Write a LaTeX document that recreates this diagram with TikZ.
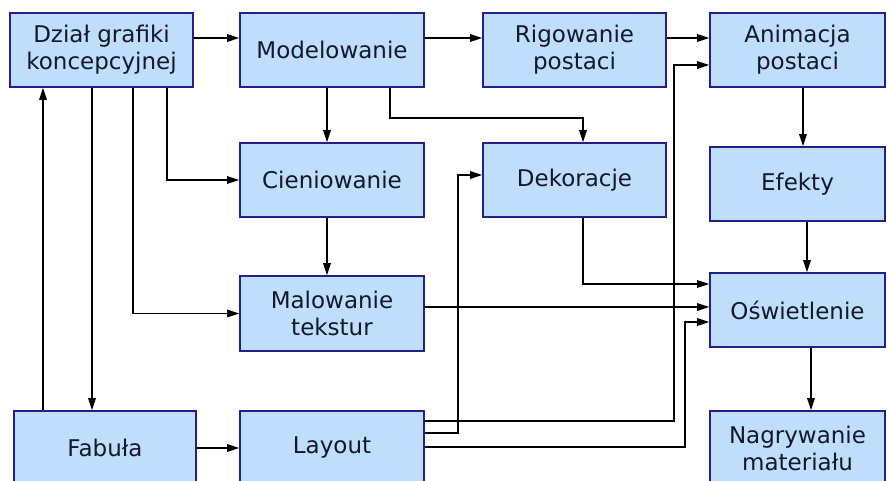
\documentclass[tikz,border=0pt]{standalone}
\usepackage{fontspec}
\setmainfont{DejaVu Sans}
\usetikzlibrary{arrows.meta}
\definecolor{boxfill}{RGB}{190,222,250}
\definecolor{boxline}{RGB}{35,30,140}
\definecolor{boxtext}{RGB}{20,24,45}
\tikzstyle{etap} = [rectangle, minimum width=184pt, minimum height=74pt, inner sep=0, align=center, text centered, draw=boxline, line width=1.6pt, fill=boxfill, text=boxtext, font=\fontsize{23}{27}\selectfont]
\tikzstyle{arrow} = [line width=1.5pt,->,>={Triangle[length=12pt,width=7.5pt]}]

\begin{document}
\begin{tikzpicture}[x=1pt,y=-1pt]%[scale=.5]
\useasboundingbox (0,0) rectangle (887,481);
% top row
\node[etap,minimum width=183pt] (dzial) at (101.5,50) {Dział grafiki\\koncepcyjnej};
\node[etap] (model) at (332,50) {Modelowanie};
\node[etap,minimum width=183pt] (rig) at (574.5,50) {Rigowanie\\postaci};
\node[etap,minimum width=175pt] (anim) at (797.5,50) {Animacja\\postaci};
% middle
\node[etap] (cien) at (332,180) {Cieniowanie};
\node[etap,minimum width=183pt] (dekor) at (574.5,180) {Dekoracje};
\node[etap,minimum width=175pt] (efekty) at (797.5,184) {Efekty};
\node[etap,minimum height=75pt] (malow) at (332,313.5) {Malowanie\\tekstur};
\node[etap,minimum width=175pt] (oswiet) at (797.5,310) {Oświetlenie};
% bottom row
\node[etap,minimum width=182pt] (fabula) at (105,448) {Fabuła};
\node[etap] (layout) at (332,448) {Layout};
\node[etap,minimum width=175pt] (nagr) at (797.5,448) {Nagrywanie\\materiału};

\draw[arrow] ([yshift=12pt]dzial.east)--([yshift=12pt]model.west);
\draw[arrow] ([yshift=12pt]model.east)--([yshift=12pt]rig.west);
\draw[arrow] ([yshift=12pt]rig.east)--([yshift=12pt]anim.west);
\draw[arrow] ([xshift=-5pt]model.south)--([xshift=-5pt]cien.north);
\draw[arrow] ([xshift=58pt]model.south)--++(0,30)-|([xshift=8.5pt]dekor.north);
\draw[arrow] ([xshift=65.5pt]dzial.south)|-(cien.west);
\draw[arrow] ([xshift=31.5pt]dzial.south)|-(malow.west);
\draw[arrow] ([xshift=-9.5pt]dzial.south)--([xshift=-9.5pt]dzial.south|-fabula.north);
\draw[arrow] ([xshift=-62pt]fabula.north)--([xshift=-62pt]fabula.north|-dzial.south);
\draw[arrow] ([xshift=-5pt]cien.south)--([xshift=-5pt]malow.north);
\draw[arrow] (fabula.east)--(layout.west);
% from layout to the right
\draw[arrow] ([yshift=27pt]layout.east)--++(249,0)|-([yshift=-15pt]anim.west);
\draw[arrow] ([yshift=15pt]layout.east)--++(33,0)|-([yshift=5pt]dekor.west);
\draw[arrow] ([yshift=1pt]layout.east)--++(260,0)|-([yshift=-12pt]oswiet.west);
\draw[arrow] ([yshift=6.5pt]malow.east)--([yshift=6.5pt]malow.east-|oswiet.west);
\draw[arrow] ([xshift=8.5pt]dekor.south)|-([yshift=26pt]oswiet.west);
% right column
\draw[arrow] ([xshift=5.5pt]anim.south)--([xshift=5.5pt]efekty.north);
\draw[arrow] ([xshift=9.5pt]efekty.south)--([xshift=9.5pt]oswiet.north);
\draw[arrow] ([xshift=13.5pt]oswiet.south)--([xshift=13.5pt]nagr.north);
\end{tikzpicture}
\end{document}
